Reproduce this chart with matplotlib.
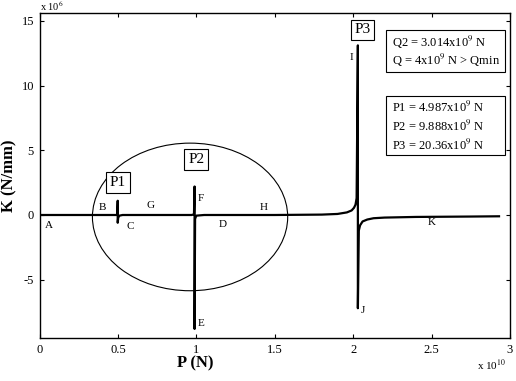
import numpy as np
import matplotlib
matplotlib.use("Agg")
import matplotlib.pyplot as plt
from matplotlib.patches import Ellipse, Rectangle

plt.rcParams['font.family'] = ['Liberation Serif', 'DejaVu Serif']
plt.rcParams['mathtext.fontset'] = 'stix'

# P in units of 1e10 N, K in units of the axis multiplier
p = [0, 0.49, 0.496, 0.4987, 0.4987, 0.502, 0.51, 0.53, 0.97, 0.985,
     0.9888, 0.9888, 0.992, 1.0, 1.05, 1.5, 1.8, 1.9, 1.96, 1.99,
     2.005, 2.015, 2.022, 2.03, 2.03, 2.036, 2.044, 2.06, 2.09, 2.13,
     2.2, 2.4, 2.75, 2.93]
k = [0, 0, 0.05, 1.1, -0.6, -0.2, -0.05, 0, 0, 0.05,
     2.2, -8.8, -0.3, -0.05, 0, 0, 0.03, 0.08, 0.2, 0.35,
     0.55, 0.8, 1.3, 13.1, -7.2, -1.2, -0.8, -0.5, -0.35, -0.25,
     -0.2, -0.15, -0.12, -0.1]

point_lbl = ['A', 'B', 'C', 'G', 'F', 'D', 'H', 'E', 'I', 'J', 'K']
point_x = [0.06, 0.4, 0.58, 0.71, 1.03, 1.17, 1.43, 1.03, 1.99, 2.06, 2.5]
point_y = [-0.8, 0.6, -0.9, 0.7, 1.3, -0.7, 0.6, -8.4, 12.2, -7.4, -0.6]

peak_lbl = ['P1', 'P2', 'P3']
peak_x = [0.5, 1.0, 2.06]
peak_y = [2.5, 4.3, 14.3]

q_lines = ['Q2 = 3.014x10$^{9}$ N', 'Q = 4x10$^{9}$ N > Qmin']
p_lines = ['P1 = 4.987x10$^{9}$ N', 'P2 = 9.888x10$^{9}$ N', 'P3 = 20.36x10$^{9}$ N']

fig = plt.figure(figsize=(5.16, 3.81), dpi=100)
ax = fig.add_axes([39.5/516, 1-338/381, 470.5/516, 325/381])
ax.plot(p, k, color='black', lw=1.6)

ax.set_xlim(0, 3)
ax.set_ylim(-9.5, 15.6)
ax.set_xticks([0, 0.5, 1, 1.5, 2, 2.5, 3])
ax.set_xticklabels(['0', '0.5', '1', '1.5', '2', '2.5', '3'])
ax.set_yticks([-5, 0, 5, 10, 15])
ax.set_yticklabels(['-5', '0', '5', '10', '15'])
ax.tick_params(direction='in', labelsize=9, length=3, top=True, right=True, pad=4)
for s in ax.spines.values():
    s.set_linewidth(1.0)

ax.set_xlabel('P (N)', fontsize=12, fontweight='bold')
ax.xaxis.set_label_coords(0.33, -0.053, transform=ax.transAxes)
ax.xaxis.label.set_va('top')
ax.set_ylabel('K (N/mm)', fontsize=12, fontweight='bold', labelpad=3)
ax.text(0, 1.0, 'x 10$^{6}$', transform=ax.transAxes, fontsize=7.5, va='bottom')
ax.text(0.96, -0.06, 'x 10$^{10}$', transform=ax.transAxes, fontsize=8, ha='center', va='top')

for t, x, y in zip(point_lbl, point_x, point_y):
    ax.text(x, y, t, fontsize=8, ha='center', va='center')
for t, x, y in zip(peak_lbl, peak_x, peak_y):
    ax.text(x, y, t, fontsize=11, ha='center', va='center',
            bbox=dict(boxstyle='square,pad=0.25', fc='white', ec='black', lw=0.8))

ax.add_patch(Ellipse((0.96, -0.15), 1.245, 11.4, fill=False, ec='black', lw=0.8))

ax.add_patch(Rectangle((2.21, 11.05), 0.76, 3.25, fill=False, ec='black', lw=0.8))
ax.add_patch(Rectangle((2.21, 4.63), 0.76, 4.56, fill=False, ec='black', lw=0.8))
for i, t in enumerate(q_lines):
    ax.text(2.245, 13.3 - i * 1.4, t, fontsize=9, va='center', ha='left')
for i, t in enumerate(p_lines):
    ax.text(2.245, 8.3 - i * 1.45, t, fontsize=9, va='center', ha='left')

fig.savefig('out.png', dpi=100)
